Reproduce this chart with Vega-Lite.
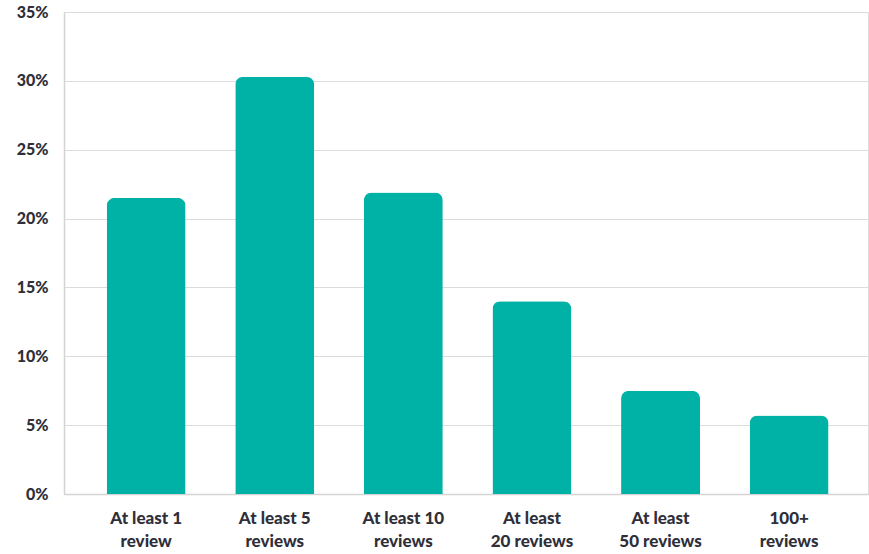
{
  "$schema": "https://vega.github.io/schema/vega-lite/v6.json",
  "width": 804,
  "height": 482,
  "autosize": {"type": "none"},
  "padding": {"left": 64, "top": 12, "right": 1, "bottom": 60},
  "background": "white",
  "data": {"values": [
    {"group": "At least 1|review", "share": 21.5},
    {"group": "At least 5|reviews", "share": 30.3},
    {"group": "At least 10|reviews", "share": 21.9},
    {"group": "At least|20 reviews", "share": 14.0},
    {"group": "At least|50 reviews", "share": 7.5},
    {"group": "100+|reviews", "share": 5.7}
  ]},
  "mark": {"type": "bar", "color": "#00B2A5", "cornerRadiusTopLeft": 8, "cornerRadiusTopRight": 8},
  "encoding": {
    "x": {
      "field": "group", "type": "nominal", "sort": null,
      "scale": {"paddingInner": 0.386, "paddingOuter": 0.319, "align": 0.52},
      "axis": {
        "title": null, "labelAngle": 0, "ticks": false,
        "labelExpr": "split(datum.value, '|')",
        "labelFont": "Lato", "labelFontWeight": 900, "labelFontSize": 17,
        "labelColor": "#2f2f3a", "labelPadding": 16, "labelLineHeight": 23,
        "domainColor": "#d4d4d4", "domainWidth": 1.5
      }
    },
    "y": {
      "field": "share", "type": "quantitative",
      "scale": {"domain": [0, 35]},
      "axis": {
        "title": null, "values": [0, 5, 10, 15, 20, 25, 30, 35],
        "labelExpr": "datum.value + '%'", "ticks": false,
        "labelFont": "Lato", "labelFontWeight": 900, "labelFontSize": 16,
        "labelColor": "#2f2f3a", "labelPadding": 16,
        "domainColor": "#d4d4d4", "domainWidth": 1.5,
        "gridColor": "#dcdcdc", "gridWidth": 1
      }
    }
  },
  "config": {"view": {"stroke": "#dcdcdc", "strokeWidth": 1}}
}
